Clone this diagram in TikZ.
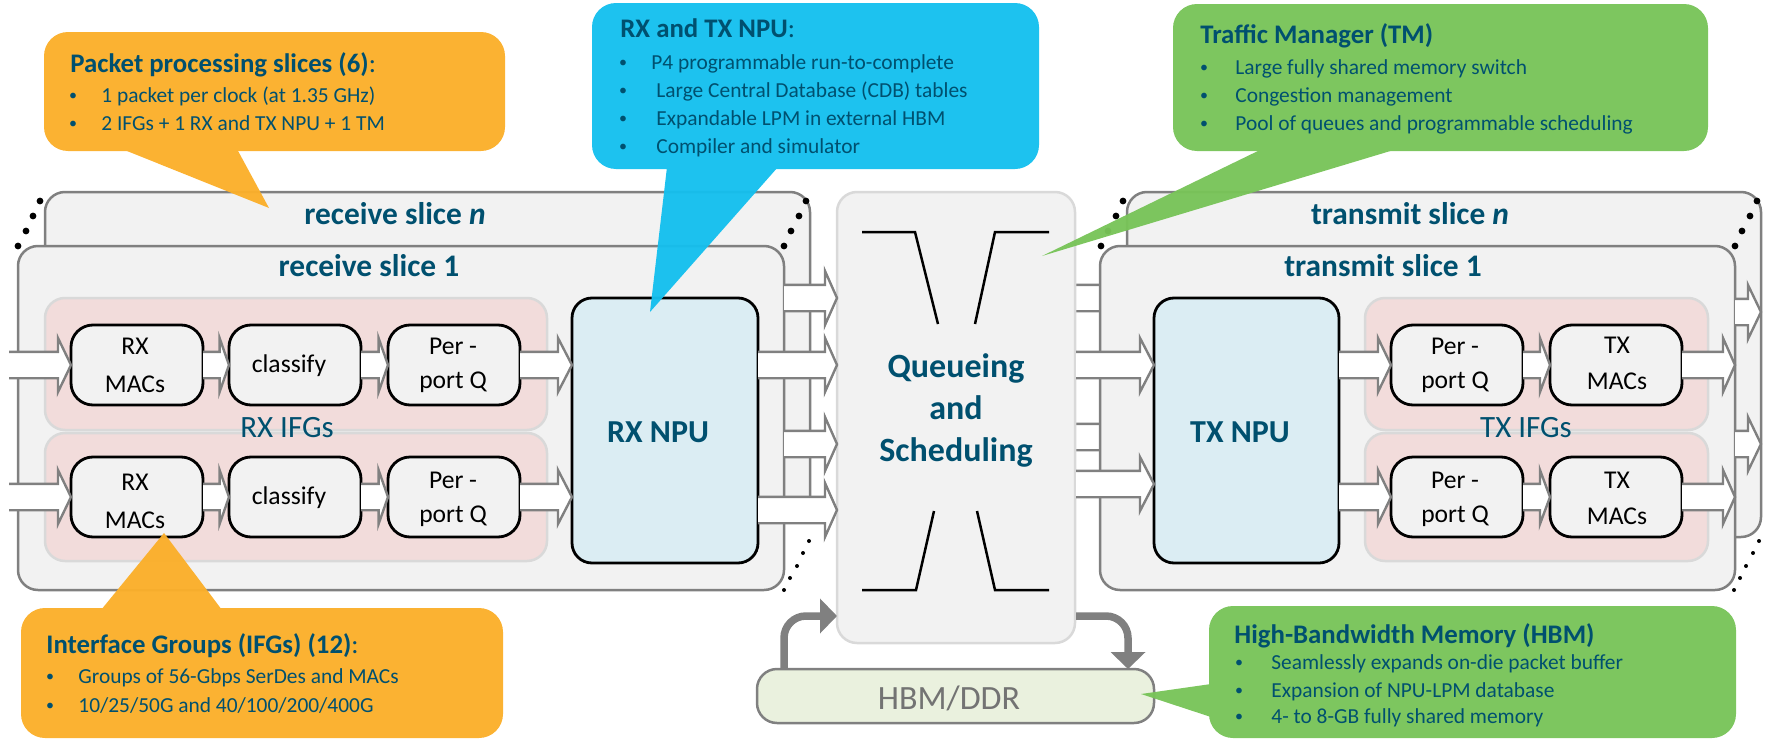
\documentclass[tikz,border=0pt]{standalone}
\usepackage{fontspec}
\setmainfont{Carlito}
\usetikzlibrary{calc,arrows.meta}
\definecolor{tealtxt}{HTML}{00506F}
\definecolor{lgray}{HTML}{F2F2F2}
\definecolor{mgray}{HTML}{D9D9D9}
\definecolor{dgray}{HTML}{808080}
\definecolor{pinkf}{HTML}{F2DCDB}
\definecolor{npuf}{HTML}{DBEDF3}
\definecolor{hbmf}{HTML}{EAF1DE}
\definecolor{orangec}{HTML}{FBAF2A}
\definecolor{bluec}{HTML}{14BFEE}
\definecolor{greenc}{HTML}{78C458}
\tikzset{
  box/.style={rectangle,inner sep=0pt,outer sep=0pt},
  slicebox/.style={box,draw=dgray,line width=1.25pt,fill=lgray,rounded corners=10pt},
  ifgbox/.style={box,draw=mgray,line width=1.25pt,fill=pinkf,rounded corners=10pt},
  stagebox/.style={box,draw=black,line width=1.4pt,fill=lgray,rounded corners=11pt},
  npubox/.style={box,draw=black,line width=1.4pt,fill=npuf,rounded corners=10pt},
  qbox/.style={box,draw=mgray,line width=1.25pt,fill=lgray,rounded corners=10pt},
  hbmbox/.style={box,draw=dgray,line width=1.25pt,fill=hbmf,rounded corners=10pt},
  callout/.style={box,rounded corners=12pt},
  slicetitle/.style={inner sep=0pt,text=tealtxt,font=\fontsize{15.7}{18}\selectfont\bfseries},
  npulabel/.style={inner sep=0pt,text=tealtxt,font=\fontsize{16}{18}\selectfont\bfseries},
  qlabel/.style={inner sep=0pt,text=tealtxt,font=\fontsize{17}{21}\selectfont\bfseries,align=center},
  ifglabel/.style={inner sep=0pt,text=tealtxt,font=\fontsize{15.5}{18}\selectfont},
  stagelabel/.style={inner sep=0pt,text=black,font=\fontsize{12.8}{18}\selectfont,align=center},
  rxmac/.style={stagelabel,font=\fontsize{12.8}{19}\selectfont},
  perq/.style={stagelabel,font=\fontsize{12.8}{17}\selectfont},
  ctitle/.style={inner sep=0pt,anchor=base west,text=tealtxt,font=\fontsize{13.4}{16}\selectfont\bfseries},
  cbody/.style={inner sep=0pt,anchor=base west,text=tealtxt,font=\fontsize{10.7}{13}\selectfont},
  cbul/.style={inner sep=0pt,anchor=base,yshift=0.8pt,text=tealtxt,font=\fontsize{8}{10}\selectfont},
  blackline/.style={draw=black,line width=1.25pt},
  thickarrow/.style={draw=dgray,line width=3.75pt,rounded corners=11pt,-{Triangle[length=8.5pt,width=17pt]}},
}
\newcommand{\bx}[6]{\node[#1,minimum width=(#5-#3)*0.5pt,minimum height=(#6-#4)*0.5pt] (#2) at ({(#3+#5)/2},{(#4+#6)/2}) {};}
% white block arrow from #2 to #3, head length #1 (pt)
\newcommand{\fatarr}[3][6.5pt]{%
  \fill[white] let \p1=(#2),\p2=(#3) in
    (\x1,\y1+6.6pt) -- (\x2-#1,\y2+6.6pt) -- (\x2-#1,\y2+13.5pt) -- (\x2,\y2)
    -- (\x2-#1,\y2-13.5pt) -- (\x2-#1,\y2-6.6pt) -- (\x1,\y1-6.6pt) -- cycle;
  \draw[dgray,line width=1.2pt] let \p1=(#2),\p2=(#3) in
    (\x1,\y1+6.6pt) -- (\x2-#1,\y2+6.6pt) -- (\x2-#1,\y2+13.5pt) -- (\x2,\y2)
    -- (\x2-#1,\y2-13.5pt) -- (\x2-#1,\y2-6.6pt) -- (\x1,\y1-6.6pt);
}
\begin{document}
\begin{tikzpicture}[x=0.5pt,y=-0.5pt]
\useasboundingbox (0,0) rectangle (1767,739);
% ---- receive slice n + transmit slice n
\bx{slicebox}{rxn}{45}{192}{810}{520}
\bx{slicebox}{txn}{1127}{192}{1761}{537}
\node[slicetitle] (rxnt) at (395,214) {receive slice \textit{n}};
\node[slicetitle] (txnt) at (1410,214) {transmit slice \textit{n}};
% ---- free ends on the queue box, right side
\coordinate (qo1) at (1076,298);
\coordinate (qo2) at (1076,437);
\coordinate (to1) at (1140,298);
\coordinate (to2) at (1140,437);
\fatarr{qo1}{to1}
\fatarr{qo2}{to2}
% ---- slice 1
\bx{slicebox}{rx1}{18}{246}{784}{590}
\bx{slicebox}{tx1}{1100}{246}{1735}{590}
\node[slicetitle] (rx1t) at (369,266) {receive slice 1};
\node[slicetitle] (tx1t) at (1383,266) {transmit slice 1};
% ---- IFG backgrounds
\bx{ifgbox}{rxi1}{45}{298}{547}{430}
\bx{ifgbox}{rxi2}{45}{433}{547}{561}
\bx{ifgbox}{txi1}{1365}{298}{1708}{430}
\bx{ifgbox}{txi2}{1365}{433}{1708}{561}
\node[ifglabel] (rxil) at (287,428) {RX IFGs};
\node[ifglabel] (txil) at (1526,428) {TX IFGs};
% ---- stage boxes
\bx{stagebox}{a1}{71}{325}{203}{405}
\bx{stagebox}{b1}{229}{325}{361}{405}
\bx{stagebox}{c1}{388}{325}{520}{405}
\bx{stagebox}{a2}{71}{457}{203}{537}
\bx{stagebox}{b2}{229}{457}{361}{537}
\bx{stagebox}{c2}{388}{457}{520}{537}
\bx{stagebox}{d1}{1391}{325}{1523}{405}
\bx{stagebox}{e1}{1550}{325}{1682}{405}
\bx{stagebox}{d2}{1391}{457}{1523}{537}
\bx{stagebox}{e2}{1550}{457}{1682}{537}
\bx{npubox}{rxnpu}{572}{298}{758}{563}
\bx{npubox}{txnpu}{1154}{298}{1339}{563}
\bx{qbox}{queue}{837}{192}{1075}{643}
\bx{hbmbox}{hbm}{757}{669}{1154}{723}
% ---- stage labels
\node[rxmac] (a1t) at (135,365) {RX\\MACs};
\node[stagelabel] (b1t) at (289,366) {classify};
\node[perq] (c1t) at (453,365) {Per -\\port Q};
\node[rxmac] (a2t) at (135,501) {RX\\MACs};
\node[stagelabel] (b2t) at (289,498) {classify};
\node[perq] (c2t) at (453,499) {Per -\\port Q};
\node[perq] (d1t) at (1455,365) {Per -\\port Q};
\node[stagelabel] (e1t) at (1617,363) {TX\\MACs};
\node[perq] (d2t) at (1455,499) {Per -\\port Q};
\node[stagelabel] (e2t) at (1617,498) {TX\\MACs};
\node[npulabel] (rxnt2) at (658,432) {RX NPU};
\node[npulabel] (txnt2) at (1240,432) {TX NPU};
\node[qlabel] (qt) at (956,410) {Queueing\\and\\Scheduling};
\node[inner sep=0pt,text=dgray!90!black,font=\fontsize{17}{20}\selectfont] (hbmt) at (949,698) {HBM/DDR};
% ---- queue funnel lines
\draw[blackline] (862,232) -- (915,232) -- (938,324);
\draw[blackline] (1049,232) -- (995,232) -- (975,324);
\draw[blackline] (862,590) -- (916,590) -- (934,511);
\draw[blackline] (1049,590) -- (995,590) -- (977,511);
% ---- block arrows, receive side
\coordinate (in1) at (9,365);
\coordinate (in2) at (9,497);
\fatarr{in1}{a1.west}
\fatarr{in2}{a2.west}
\fatarr[4.7pt]{a1.east}{b1.west}
\fatarr[4.7pt]{a2.east}{b2.west}
\fatarr[4.7pt]{b1.east}{c1.west}
\fatarr[4.7pt]{b2.east}{c2.west}
\fatarr[7pt]{c1.east}{c1.east -| rxnpu.west}
\fatarr[7pt]{c2.east}{c2.east -| rxnpu.west}
\coordinate (rq1s) at (784,298);
\coordinate (rq2s) at (758,365);
\coordinate (rq3s) at (784,444);
\coordinate (rq4s) at (758,510);
\fatarr[6pt]{rq1s}{rq1s -| queue.west}
\fatarr[6pt]{rq2s}{rq2s -| queue.west}
\fatarr[6pt]{rq3s}{rq3s -| queue.west}
\fatarr[6pt]{rq4s}{rq4s -| queue.west}
% ---- block arrows, transmit side
\coordinate (tq1s) at (1076,365);
\coordinate (tq2s) at (1076,484);
\fatarr[7pt]{tq1s}{tq1s -| txnpu.west}
\fatarr[7pt]{tq2s}{tq2s -| txnpu.west}
\fatarr[6.5pt]{txnpu.east |- d1.west}{d1.west}
\fatarr[6.5pt]{txnpu.east |- d2.west}{d2.west}
\fatarr[5pt]{d1.east}{e1.west}
\fatarr[5pt]{d2.east}{e2.west}
\fatarr[6pt]{e1.east}{e1.east -| tx1.east}
\fatarr[6pt]{e2.east}{e2.east -| tx1.east}
\coordinate (os1) at (1735,312);
\coordinate (os2) at (1735,444);
\fatarr[6.5pt]{os1}{os1 -| txn.east}
\fatarr[6.5pt]{os2}{os2 -| txn.east}
% ---- HBM thick arrows
\coordinate (hu) at (784,669);
\coordinate (qu) at (837,616);
\coordinate (qd) at (1076,616);
\coordinate (hd) at (1128,669);
\draw[thickarrow] (hu) |- (qu);
\draw[thickarrow] (qd) -| (hd);
% ---- dots
\foreach \x/\y [count=\i] in {40/201,33/216,26/231,18/246,806/201,799/216,791/231,784/246,1123/201,1116/216,1108/231,1101/246,1757/201,1750/216,1742/231,1735/246}
  \fill[black] (\x,\y) circle (1.7pt);
\foreach \x/\y [count=\i] in {809/541,803/553,797/566,790/578,784/590,1759/541,1753/553,1746/566,1740/578,1734/590}
  \fill[black] (\x,\y) circle (1pt);
% ---- callouts
\begin{scope}[transparency group,opacity=.96]
  \bx{callout,fill=orangec}{co1}{44}{32}{505}{151}
  \fill[orangec] (122,149) -- (269,208) -- (237,149) -- cycle;
\end{scope}
\begin{scope}[transparency group,opacity=.96]
  \bx{callout,fill=bluec}{co2}{592}{3}{1039}{169}
  \fill[bluec] (667,167) -- (650,312) -- (778,167) -- cycle;
\end{scope}
\begin{scope}[transparency group,opacity=.96]
  \bx{callout,fill=greenc}{co3}{1173}{4}{1708}{151}
  \fill[greenc] (1262,149) -- (1042,256) -- (1397,149) -- cycle;
\end{scope}
\begin{scope}[transparency group,opacity=.96]
  \bx{callout,fill=orangec}{co4}{21}{608}{503}{738}
  \fill[orangec] (101,610) -- (164,533) -- (222,610) -- cycle;
\end{scope}
\begin{scope}[transparency group,opacity=.96]
  \bx{callout,fill=greenc}{co5}{1209}{606}{1736}{738}
  \fill[greenc] (1211,684) -- (1141,694) -- (1211,717) -- cycle;
\end{scope}
% ---- callout text
\node[ctitle] (t1) at (70,72) {Packet processing slices (6)\textmd{:}};
\node[cbul] (t1ab) at (73,102) {•}; \node[cbody] (t1a) at (101,102) {1 packet per clock (at 1.35 GHz)};
\node[cbul] (t1bb) at (73,130) {•}; \node[cbody] (t1c) at (101,130) {2 IFGs + 1 RX and TX NPU + 1 TM};
\node[ctitle] (t2) at (620,38) {RX and TX NPU\textmd{:}};
\node[cbul] (t2ab) at (623,69) {•}; \node[cbody] (t2a) at (651,69) {P4 programmable run-to-complete};
\node[cbul] (t2bb) at (623,97) {•}; \node[cbody] (t2c) at (656,97) {Large Central Database (CDB) tables};
\node[cbul] (t2db) at (623,125) {•}; \node[cbody] (t2d) at (656,125) {Expandable LPM in external HBM};
\node[cbul] (t2eb) at (623,153) {•}; \node[cbody] (t2e) at (656,153) {Compiler and simulator};
\node[ctitle] (t3) at (1200,43) {Traffic Manager (TM)};
\node[cbul] (t3ab) at (1204,74) {•}; \node[cbody] (t3a) at (1235,74) {Large fully shared memory switch};
\node[cbul] (t3bb) at (1204,102) {•}; \node[cbody] (t3c) at (1235,102) {Congestion management};
\node[cbul] (t3db) at (1204,130) {•}; \node[cbody] (t3d) at (1235,130) {Pool of queues and programmable scheduling};
\node[ctitle] (t4) at (46,653) {Interface Groups (IFGs) (12)\textmd{:}};
\node[cbul] (t4ab) at (50,683) {•}; \node[cbody] (t4a) at (78,683) {Groups of 56-Gbps SerDes and MACs};
\node[cbul] (t4bb) at (50,712) {•}; \node[cbody] (t4c) at (78,712) {10/25/50G and 40/100/200/400G};
\node[ctitle] (t5) at (1234,643) {High-Bandwidth Memory (HBM)};
\node[cbul] (t5ab) at (1239,669) {•}; \node[cbody] (t5a) at (1271,669) {Seamlessly expands on-die packet buffer};
\node[cbul] (t5bb) at (1239,697) {•}; \node[cbody] (t5c) at (1271,697) {Expansion of NPU-LPM database};
\node[cbul] (t5db) at (1239,723) {•}; \node[cbody] (t5d) at (1271,723) {4- to 8-GB fully shared memory};
\end{tikzpicture}
\end{document}
